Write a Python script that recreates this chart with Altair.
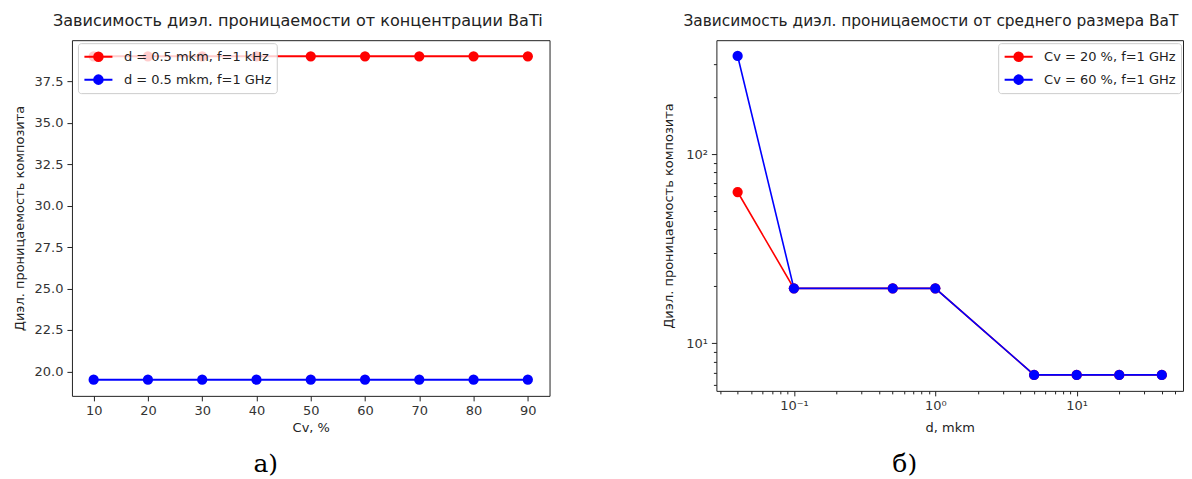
import altair as alt
import pandas as pd

# ---------------- data ----------------
cv_values = [10, 20, 30, 40, 50, 60, 70, 80, 90]
eps_d05_1khz = [39.0, 39.0, 39.0, 39.0, 39.0, 39.0, 39.0, 39.0, 39.0]
eps_d05_1ghz = [19.5, 19.5, 19.5, 19.5, 19.5, 19.5, 19.5, 19.5, 19.5]
left_series = ["d = 0.5 mkm, f=1 kHz", "d = 0.5 mkm, f=1 GHz"]

d_values = [0.04, 0.1, 0.5, 1, 5, 10, 20, 40]
eps_cv20 = [63.0, 19.5, 19.5, 19.5, 6.8, 6.8, 6.8, 6.8]
eps_cv60 = [330.0, 19.5, 19.5, 19.5, 6.8, 6.8, 6.8, 6.8]
right_series = ["Cv = 20 %, f=1 GHz", "Cv = 60 %, f=1 GHz"]

series_colors = ["#ff0000", "#0000ff"]

left_title = ["Зависимость диэл. проницаемости от концентрации BaTiO₃"]
right_title = ["Зависимость диэл. проницаемости от среднего размера BaTiO₃"]
x_titles = ["Cv, %", "d, mkm"]
y_title = "Диэл. проницаемость композита"
captions = ["а)", "б)"]

left_x_ticks = [10, 20, 30, 40, 50, 60, 70, 80, 90]
left_y_ticks = [20.0, 22.5, 25.0, 27.5, 30.0, 32.5, 35.0, 37.5]
right_x_major = [0.1, 1, 10]
right_x_minor = [0.03, 0.04, 0.05, 0.06, 0.07, 0.08, 0.09,
                 0.2, 0.3, 0.4, 0.5, 0.6, 0.7, 0.8, 0.9,
                 2, 3, 4, 5, 6, 7, 8, 9, 20, 30, 40, 50]
right_y_major = [10, 100]
right_y_minor = [6, 7, 8, 9, 20, 30, 40, 50, 60, 70, 80, 90, 200, 300]

FONT = "DejaVu Sans"
INK = "#222222"

left_df = pd.DataFrame({
    "cv": cv_values + cv_values,
    "eps": eps_d05_1khz + eps_d05_1ghz,
    "series": [left_series[0]] * len(cv_values) + [left_series[1]] * len(cv_values),
})
right_df = pd.DataFrame({
    "d": d_values + d_values,
    "eps": eps_cv20 + eps_cv60,
    "series": [right_series[0]] * len(d_values) + [right_series[1]] * len(d_values),
})

symbol_path = "M-1.87,0L1.87,0M0.57,0A0.57,0.57,0,1,1,-0.57,0A0.57,0.57,0,1,1,0.57,0Z"


def make_legend(x, y):
    return alt.Legend(
        title=None, orient="none", legendX=x, legendY=y,
        symbolType=symbol_path, symbolSize=225, symbolStrokeWidth=2,
        symbolOffset=7, labelOffset=17,
        labelFont=FONT, labelFontSize=13, labelColor=INK,
        fillColor="rgba(255,255,255,0.8)", strokeColor="#cccccc",
        cornerRadius=3, padding=5, rowPadding=6,
    )


AX = dict(grid=False, domain=False, tickColor=INK, tickWidth=1,
          labelFont=FONT, labelFontSize=13, labelColor="#333333", labelPadding=4,
          titleFont=FONT, titleFontSize=13, titleFontWeight="normal", titleColor=INK)

# ---------------- left panel ----------------
LW, LH = 478, 356
lx = alt.X("cv:Q", scale=alt.Scale(domain=[6, 94], nice=False, zero=False),
           axis=alt.Axis(values=left_x_ticks, format="d", tickSize=5,
                         titlePadding=4, title=x_titles[0], **AX))
ly = alt.Y("eps:Q", scale=alt.Scale(domain=[18.525, 39.975], nice=False, zero=False),
           axis=alt.Axis(values=left_y_ticks, format=".1f", tickSize=5,
                         titlePadding=8, title=y_title, **AX))
lcolor = alt.Color("series:N", scale=alt.Scale(domain=left_series, range=series_colors),
                   legend=make_legend(6, 3))

left_base = alt.Chart(left_df)
left_lines = left_base.mark_line(strokeWidth=2).encode(x=lx, y=ly, color=lcolor)
left_points = left_base.mark_circle(size=105, opacity=1).encode(x=lx, y=ly, color=lcolor)
left_head = alt.Chart(pd.DataFrame({"t": left_title})).mark_text(
    align="left", baseline="middle", font=FONT, fontSize=16.1, color=INK,
    limit=498, ellipsis="\u200b",
).encode(x=alt.value(-19), y=alt.value(-19), text="t:N")

left = alt.layer(left_lines, left_points, left_head).properties(
    width=LW, height=LH,
    title=alt.TitleParams(captions[0], orient="bottom", anchor="middle", dx=-45,
                          offset=17, font="DejaVu Serif", fontSize=25,
                          fontWeight="normal", color="black"),
)

# ---------------- right panel ----------------
RW, RH = 467, 351
rscale_x = alt.Scale(type="log", domain=[0.0283, 56.5], nice=False)
rscale_y = alt.Scale(type="log", domain=[5.6, 400], nice=False)
x_major = alt.Axis(values=right_x_major, tickSize=5, orient="bottom", titlePadding=9,
                   title=x_titles[1],
                   labelExpr="datum.value < 0.5 ? '10⁻¹' : datum.value < 5 ? '10⁰' : '10¹'",
                   **AX)
x_minor = alt.Axis(values=right_x_minor, tickSize=3, orient="bottom", labels=False,
                   title=None, **AX)
y_major = alt.Axis(values=right_y_major, tickSize=5, orient="left", titlePadding=10,
                   title=y_title,
                   labelExpr="datum.value < 50 ? '10¹' : '10²'", **AX)
y_minor = alt.Axis(values=right_y_minor, tickSize=3, orient="left", labels=False,
                   title=None, **AX)

rcolor = alt.Color("series:N", scale=alt.Scale(domain=right_series, range=series_colors),
                   legend=make_legend(282, 3))

right_base = alt.Chart(right_df)
right_lines = right_base.mark_line(strokeWidth=1.6).encode(
    x=alt.X("d:Q", scale=rscale_x, axis=x_major),
    y=alt.Y("eps:Q", scale=rscale_y, axis=y_major),
    color=rcolor,
)
right_points = right_base.mark_circle(size=105, opacity=1).encode(
    x=alt.X("d:Q", scale=rscale_x, axis=x_minor),
    y=alt.Y("eps:Q", scale=rscale_y, axis=y_minor),
    color=rcolor,
)
right_head = alt.Chart(pd.DataFrame({"t": right_title})).mark_text(
    align="left", baseline="middle", font=FONT, fontSize=15.4, color=INK,
    limit=499, ellipsis="\u200b",
).encode(x=alt.value(-33), y=alt.value(-19), text="t:N")

right = alt.layer(right_lines, right_points, right_head).resolve_axis(
    x="independent", y="independent"
).properties(
    width=RW, height=RH,
    title=alt.TitleParams(captions[1], orient="bottom", anchor="middle", dx=-45,
                          offset=17, font="DejaVu Serif", fontSize=25,
                          fontWeight="normal", color="black"),
)

chart = alt.hconcat(left, right, spacing=111).resolve_scale(
    color="independent"
).properties(
    padding={"left": 4, "top": 4, "right": 0, "bottom": 0},
    background="white",
).configure_view(
    stroke=INK, strokeWidth=1
)

chart.save("out.html", embed_options={"renderer": "svg", "actions": False})
